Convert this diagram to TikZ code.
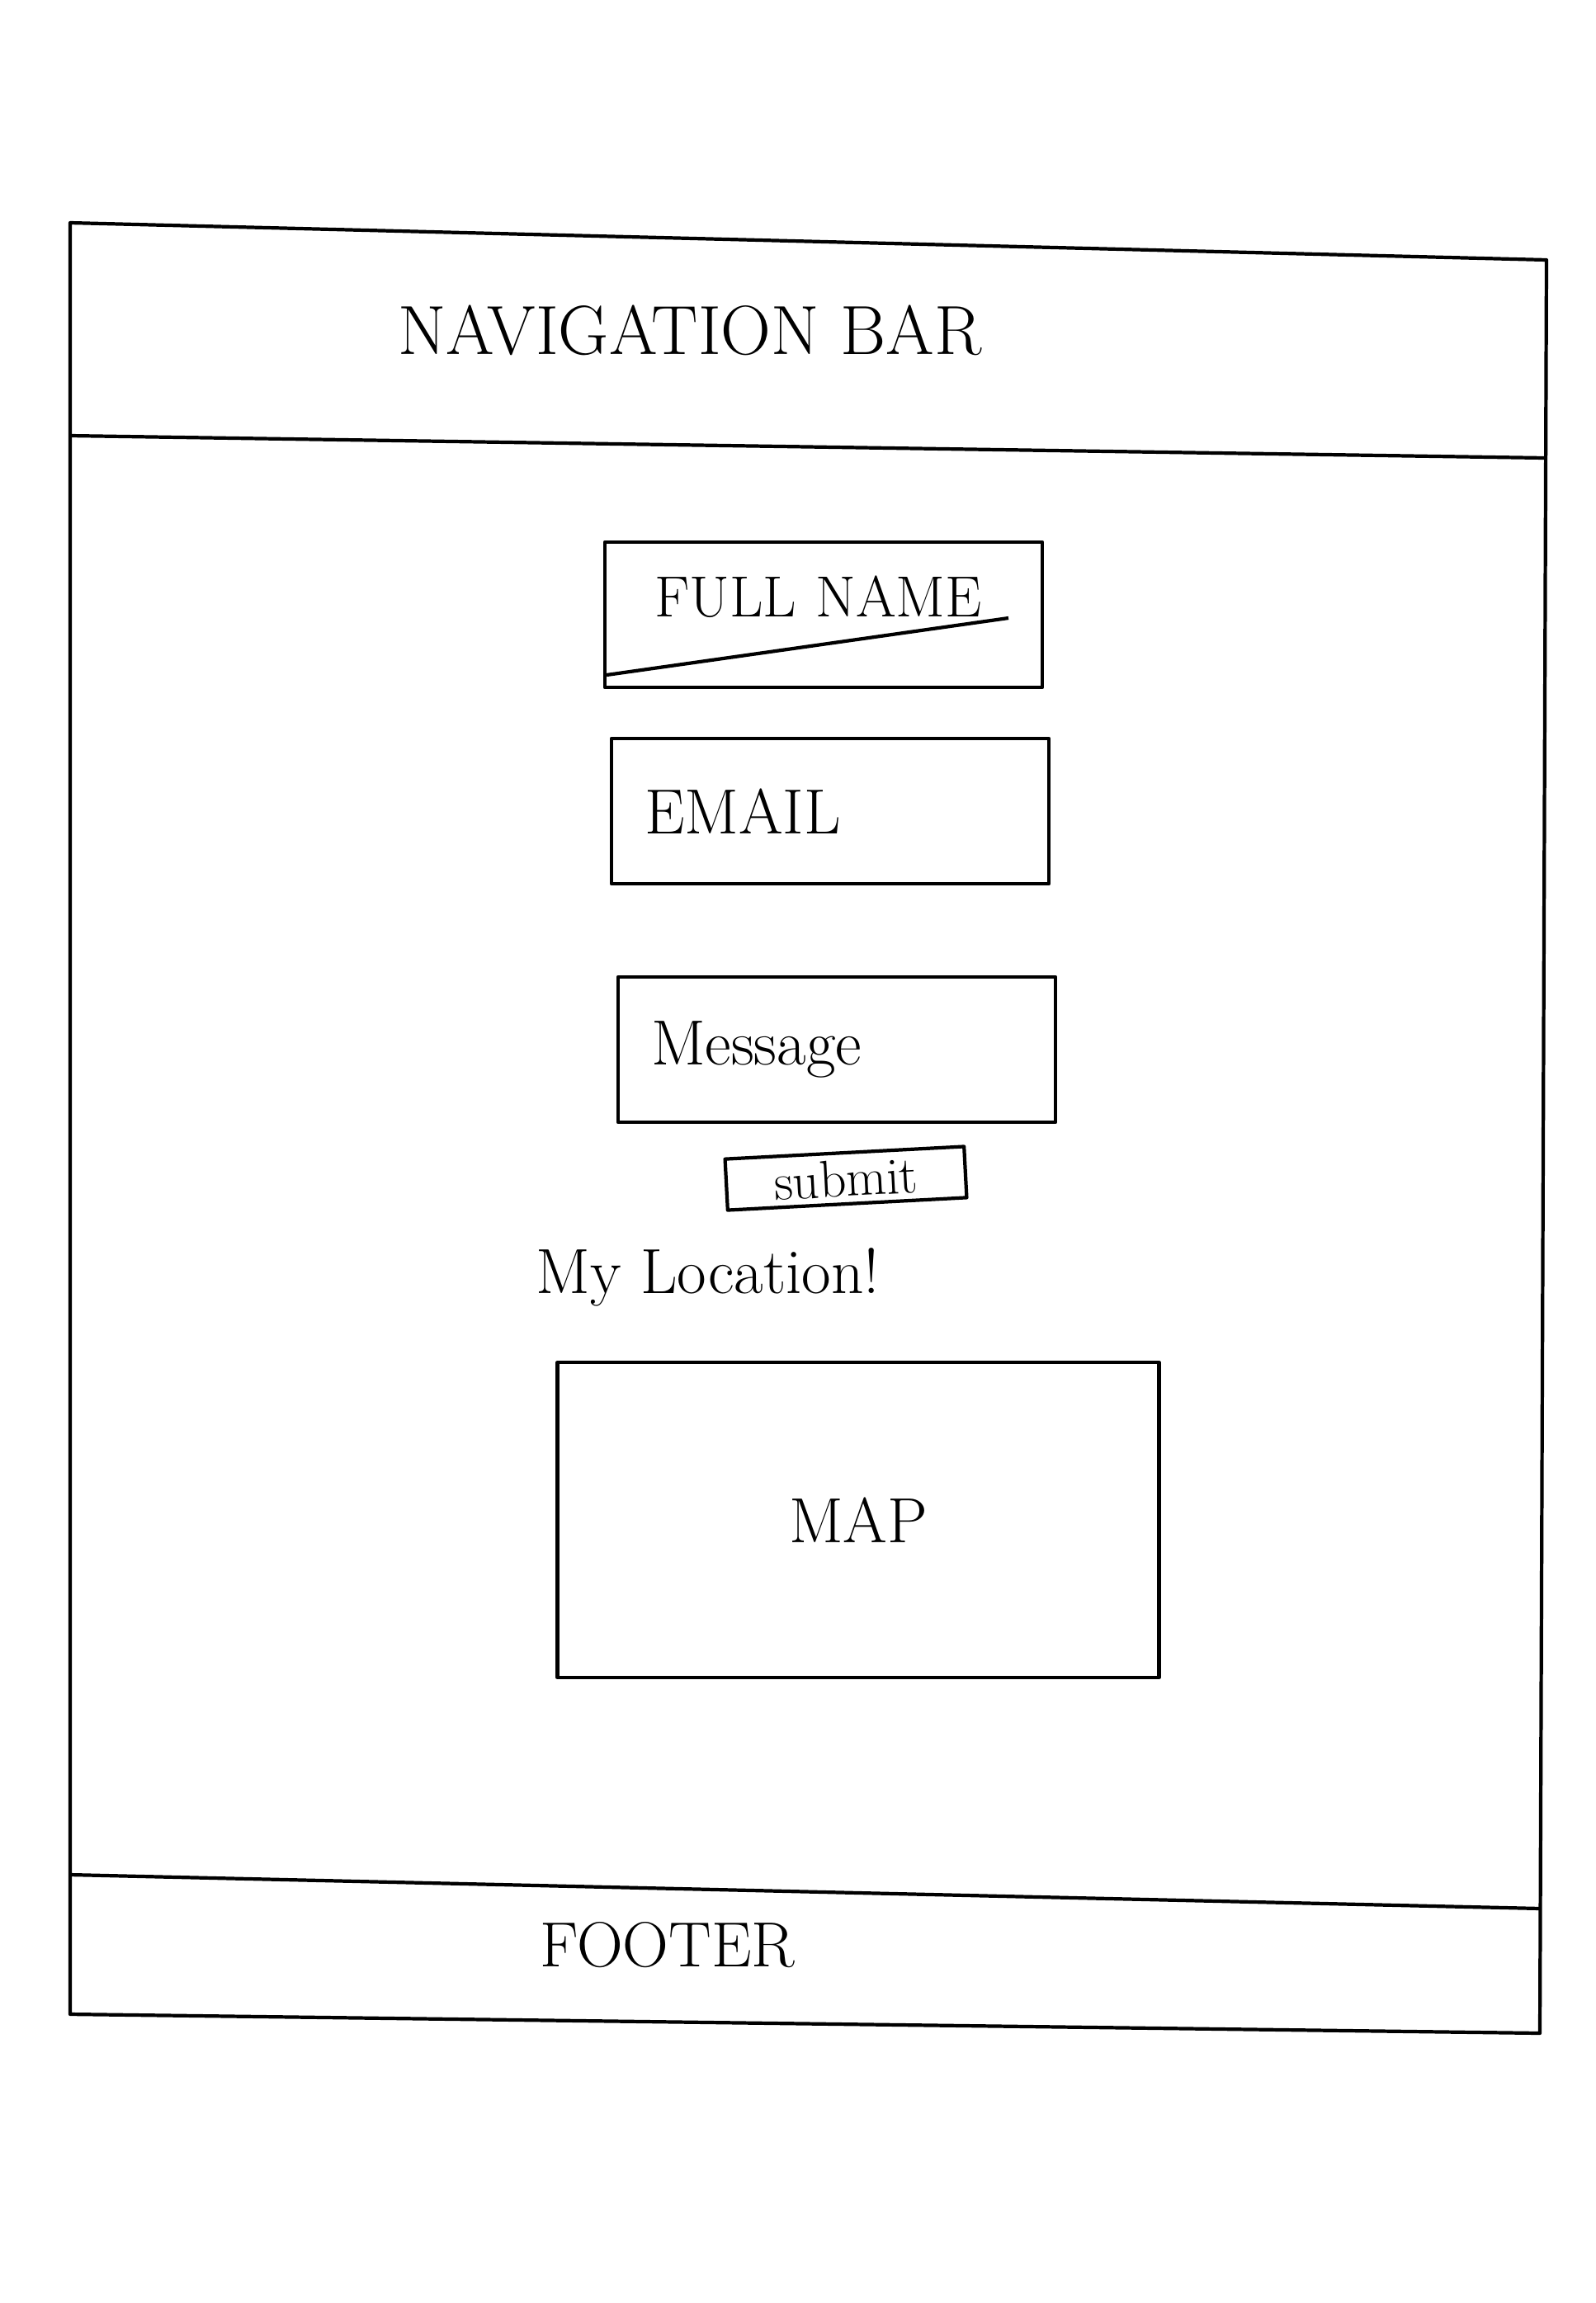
\documentclass[tikz,border=0pt]{standalone}
\usepackage{tikz}

\tikzset{
  sketch/.style={line width=1.2pt, line join=round},
  hand/.style={font=\fontsize{22}{24}\selectfont},
  field/.style={draw, sketch, hand, minimum width=5.3cm, minimum height=1.76cm,
    text width=4.5cm, align=left},
}

\begin{document}
\begin{tikzpicture}
\useasboundingbox (0,0) rectangle (19.34,-27.91);
% page frame
\coordinate (tl) at (0.85,-2.70);
\coordinate (tr) at (18.74,-3.15);
\coordinate (br) at (18.66,-24.64);
\coordinate (bl) at (0.85,-24.41);
\coordinate (navl) at (0.85,-5.28);
\coordinate (navr) at (18.72,-5.55);
\coordinate (footl) at (0.85,-22.72);
\coordinate (footr) at (18.67,-23.13);
\draw[sketch] (tl)--(tr)--(br)--(bl)--cycle;
\draw[sketch] (navl)--(navr);
\draw[sketch] (footl)--(footr);
\node[hand, font=\fontsize{24}{26}\selectfont] at (8.36,-4.00) (navbar){NAVIGATION BAR};
\node[hand] at (8.09,-23.57) (footer){FOOTER};
% contact form
\node[field, font=\fontsize{20}{22}\selectfont, text width=4.1cm, text depth=0.45cm] at (9.98,-7.45) (fullname){FULL NAME};
\node[field] at (10.06,-9.83) (email){EMAIL};
\node[field] at (10.14,-12.72) (message){Message};
\draw[sketch] (7.35,-8.18)--(12.22,-7.49);
\node[draw, sketch, font=\fontsize{18}{20}\selectfont, rotate=3,
  minimum width=2.9cm, minimum height=0.62cm, inner sep=1pt] at (10.25,-14.28) (submit){submit};
% location
\node[hand] at (8.58,-15.48) (location){My Location!};
\node[draw, sketch, hand, minimum width=7.29cm, minimum height=3.82cm] at (10.40,-18.42) (map){MAP};
\end{tikzpicture}
\end{document}
